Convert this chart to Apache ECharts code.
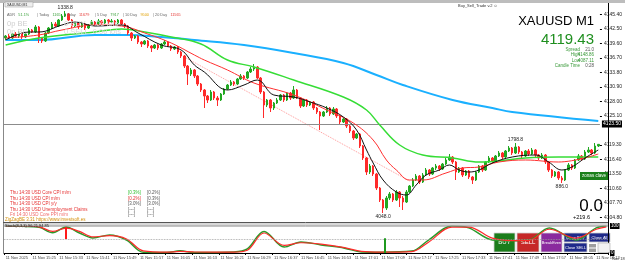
<!DOCTYPE html>
<html>
<head>
<meta charset="utf-8">
<title>XAUUSD M1</title>
<script src="https://cdn.jsdelivr.net/npm/echarts@6/dist/echarts.min.js"></script>
<style>
html,body{margin:0;padding:0;background:#fff;}
#chart{width:625px;height:266px;}
</style>
</head>
<body>
<div id="chart"></div>
<script>
// velas M1 XAUUSD: [open, close, low, high]
var candles = [
[4140.7,4141.1,4140.3,4141.3],[4141.1,4140.7,4140.5,4141.5],[4140.7,4141.5,4140.5,4141.7],[4141.5,4141.1,4140.9,4141.9],
[4141.1,4141.7,4140.7,4142.1],[4141.7,4140.9,4140.5,4141.9],[4140.9,4141.5,4140.7,4141.7],[4141.5,4142.3,4141.3,4142.7],
[4142.3,4141.9,4141.7,4142.5],[4141.9,4142.9,4141.7,4143.3],[4142.9,4140.7,4139.7,4143.1],[4140.7,4140.1,4139.7,4140.9],
[4140.1,4141.7,4139.9,4141.9],[4141.7,4142.7,4141.5,4142.9],[4142.7,4143.5,4142.5,4143.9],[4143.5,4143.1,4142.9,4143.9],
[4143.1,4144.3,4142.9,4144.5],[4144.3,4145.1,4144.1,4145.5],[4145.1,4145.5,4144.9,4146.1],[4145.5,4144.3,4144.1,4145.7],
[4144.3,4143.1,4142.7,4144.5],[4143.1,4143.7,4142.9,4143.9],[4143.7,4142.9,4142.5,4143.9],[4142.9,4143.5,4142.7,4143.7],
[4143.5,4142.7,4142.3,4143.7],[4142.7,4143.3,4142.5,4143.5],[4143.3,4143.9,4143.1,4144.3],[4143.9,4143.5,4143.1,4144.1],
[4143.5,4144.1,4143.3,4144.5],[4144.1,4143.7,4143.3,4144.3],[4143.7,4144.3,4143.5,4144.5],[4144.3,4143.9,4143.5,4144.5],
[4143.9,4144.1,4143.7,4144.5],[4144.1,4143.7,4143.3,4144.3],[4143.7,4144.3,4143.5,4144.5],[4144.3,4143.5,4143.3,4144.5],
[4143.5,4143.1,4142.7,4143.7],[4143.1,4141.7,4141.3,4143.3],[4141.7,4140.7,4140.1,4141.9],[4140.7,4141.1,4140.5,4141.3],
[4141.1,4139.9,4139.5,4141.3],[4139.9,4139.5,4138.9,4140.1],[4139.5,4140.1,4139.3,4140.3],[4140.1,4139.1,4138.7,4140.3],
[4139.1,4138.7,4137.9,4139.3],[4138.7,4139.3,4138.5,4139.5],[4139.3,4138.7,4138.3,4139.5],[4138.7,4139.5,4138.5,4139.7],
[4139.5,4139.9,4139.3,4140.3],[4139.9,4139.1,4138.9,4140.1],[4139.1,4138.5,4138.1,4139.3],[4138.5,4138.9,4138.3,4139.1],
[4138.9,4137.9,4137.5,4139.1],[4137.9,4137.1,4136.7,4138.1],[4137.1,4135.1,4134.7,4137.3],[4135.1,4133.5,4131.3,4135.3],
[4133.5,4134.3,4133.1,4134.7],[4134.3,4133.1,4132.7,4134.5],[4133.1,4131.5,4131.1,4133.3],[4131.5,4130.3,4129.9,4131.7],
[4130.3,4129.1,4126.7,4130.5],[4129.1,4128.3,4127.7,4129.3],[4128.3,4129.9,4128.1,4130.3],[4129.9,4128.7,4128.3,4130.1],
[4128.7,4128.3,4127.1,4129.1],[4128.3,4129.5,4128.1,4129.7],[4129.5,4130.5,4129.3,4130.7],[4130.5,4131.3,4130.3,4131.5],
[4131.3,4131.9,4131.1,4132.3],[4131.9,4131.5,4131.1,4132.1],[4131.5,4132.5,4131.3,4132.7],[4132.5,4133.1,4132.3,4133.5],
[4133.1,4132.7,4132.3,4133.3],[4132.7,4133.9,4132.5,4134.1],[4133.9,4134.5,4133.7,4134.9],[4134.5,4134.9,4134.1,4135.5],
[4134.9,4132.7,4132.5,4135.1],[4132.7,4129.9,4129.5,4132.9],[4129.9,4127.3,4124.7,4130.1],[4127.3,4128.3,4126.9,4128.5],
[4128.3,4126.7,4125.9,4128.5],[4126.7,4127.7,4126.3,4127.9],[4127.7,4128.3,4127.5,4128.7],[4128.3,4129.3,4128.1,4129.5],
[4129.3,4128.3,4127.9,4129.5],[4128.3,4129.7,4128.1,4129.9],[4129.7,4128.7,4128.3,4129.9],[4128.7,4130.3,4128.5,4131.1],
[4130.3,4128.7,4128.5,4130.5],[4128.7,4127.1,4126.7,4128.9],[4127.1,4128.3,4126.9,4128.5],[4128.3,4127.3,4126.9,4128.5],
[4127.3,4127.9,4127.1,4128.1],[4127.9,4126.7,4126.3,4128.1],[4126.7,4125.9,4125.5,4126.9],[4125.9,4125.1,4122.3,4126.1],
[4125.1,4125.9,4124.9,4126.1],[4125.9,4126.7,4125.7,4127.1],[4126.7,4125.5,4125.1,4126.9],[4125.5,4126.5,4125.3,4126.9],
[4126.5,4125.1,4124.7,4126.7],[4125.1,4123.9,4123.5,4125.3],[4123.9,4124.5,4123.7,4124.7],[4124.5,4123.1,4122.7,4124.7],
[4123.1,4122.1,4121.7,4123.3],[4122.1,4120.7,4120.3,4122.3],[4120.7,4121.5,4120.5,4121.7],[4121.5,4119.1,4118.7,4121.7],
[4119.1,4116.7,4116.3,4119.3],[4116.7,4113.9,4113.3,4116.9],[4113.9,4115.1,4113.5,4115.5],[4115.1,4113.5,4113.1,4115.3],
[4113.5,4110.7,4110.3,4113.7],[4110.7,4108.3,4107.9,4110.9],[4108.3,4106.7,4105.7,4108.5],[4106.7,4108.7,4106.3,4109.1],
[4108.7,4109.5,4108.3,4109.9],[4109.5,4108.3,4107.9,4109.7],[4108.3,4109.9,4108.1,4110.3],[4109.9,4108.7,4106.9,4110.1],
[4108.7,4107.9,4106.3,4109.1],[4107.9,4109.9,4107.7,4110.3],[4109.9,4111.1,4109.7,4111.3],[4111.1,4112.3,4110.9,4112.7],
[4112.3,4113.1,4112.1,4113.5],[4113.1,4111.9,4111.5,4113.3],[4111.9,4113.3,4111.7,4113.7],[4113.3,4114.3,4113.1,4114.7],
[4114.3,4113.5,4113.1,4114.5],[4113.5,4114.7,4113.3,4114.9],[4114.7,4115.1,4114.3,4115.5],[4115.1,4114.5,4114.1,4115.3],
[4114.5,4115.5,4114.3,4115.7],[4115.5,4116.3,4115.3,4116.7],[4116.3,4116.9,4116.1,4117.5],[4116.9,4115.9,4115.5,4117.1],
[4115.9,4113.9,4112.3,4116.1],[4113.9,4114.7,4113.7,4114.9],[4114.7,4113.3,4112.9,4114.9],[4113.3,4114.1,4113.1,4114.3],
[4114.1,4112.9,4112.5,4114.3],[4112.9,4112.3,4111.5,4113.1],[4112.3,4113.9,4112.1,4114.1],[4113.9,4115.1,4113.7,4115.3],
[4115.1,4114.3,4113.9,4115.3],[4114.3,4115.9,4114.1,4116.1],[4115.9,4116.7,4115.7,4117.1],[4116.7,4116.1,4115.7,4116.9],
[4116.1,4117.1,4115.9,4117.3],[4117.1,4117.7,4116.9,4118.1],[4117.7,4116.9,4116.5,4117.9],[4116.9,4118.1,4116.7,4118.3],
[4118.1,4118.7,4117.9,4119.1],[4118.7,4117.7,4117.3,4118.9],[4117.7,4118.9,4117.5,4119.7],[4118.9,4117.9,4117.5,4119.1],
[4117.9,4117.1,4116.7,4118.1],[4117.1,4118.1,4116.9,4118.3],[4118.1,4117.5,4117.1,4118.5],[4117.5,4118.3,4117.3,4118.7],
[4118.3,4117.3,4116.9,4118.5],[4117.3,4116.7,4116.3,4117.5],[4116.7,4117.3,4116.5,4117.7],[4117.3,4115.9,4115.5,4117.5],
[4115.9,4114.3,4113.9,4116.1],[4114.3,4113.1,4112.7,4114.5],[4113.1,4113.9,4112.9,4114.1],[4113.9,4112.7,4112.3,4114.1],
[4112.7,4112.3,4111.7,4113.1],[4112.3,4114.3,4112.1,4114.5],[4114.3,4115.3,4114.1,4115.7],[4115.3,4114.7,4114.3,4115.5],
[4114.7,4116.3,4114.5,4116.5],[4116.3,4117.1,4116.1,4117.5],[4117.1,4116.5,4116.1,4117.3],[4116.5,4117.9,4116.3,4118.3],
[4117.9,4118.3,4117.7,4118.9],[4118.3,4117.7,4117.3,4118.5],[4117.7,4119.1,4117.5,4119.7],[4119.1,4119.43,4118.9,4119.5]
];

// medias moviles: [indice vela, precio]
var maBlue = [[0,4140.3],[10,4140.3],[27,4141.3],[37,4141.3],[47,4140.9],[57,4140.3],[72,4139.3],[87,4137.7],
              [102,4135.7],[112,4133.3],[120,4131.3],[135,4128.3],[147,4126.7],[153,4125.9],[179,4124.1]];
var maGreen = [[0,4139.3],[10,4140.7],[27,4141.9],[35,4142.5],[42,4141.9],[50,4140.9],[59,4139.5],[67,4136.3],
               [75,4134.9],[87,4132.3],[102,4128.9],[109,4126.3],[113,4123.3],[119,4119.3],[126,4117.3],[135,4116.7],
               [143,4115.9],[149,4116.1],[157,4116.7],[167,4116.9],[179,4116.9]];
var maRed = [[0,4140.7],[10,4141.3],[17,4142.3],[27,4143.3],[35,4143.1],[42,4141.7],[50,4139.7],[57,4137.3],
             [60,4136.3],[67,4134.3],[75,4131.7],[87,4129.3],[97,4126.3],[105,4123.7],[111,4120.3],[115,4116.3],
             [118,4114.3],[122,4112.3],[126,4112.3],[133,4113.7],[138,4114.7],[143,4114.9],[149,4115.9],[157,4116.3],
             [167,4115.9],[179,4117.5]];
var maBlack = [[0,4140.3],[7,4141.9],[10,4141.9],[17,4143.3],[21,4143.9],[27,4143.1],[35,4143.3],[40,4141.7],
               [47,4139.3],[53,4138.3],[57,4135.3],[60,4133.9],[67,4130.3],[72,4131.3],[76,4132.3],[81,4129.3],
               [87,4128.9],[92,4127.9],[97,4126.7],[102,4124.9],[106,4122.3],[109,4118.3],[111,4115.7],[114,4112.3],
               [118,4109.9],[121,4109.3],[124,4111.3],[127,4113.3],[131,4114.3],[134,4115.3],[137,4114.3],[140,4113.9],
               [143,4114.3],[147,4115.7],[153,4116.9],[160,4117.3],[164,4115.9],[168,4114.3],[171,4114.9],[175,4116.7],
               [179,4118.3]];
var trendDots = [[54,4136.9],[122,4112.1]];
var keyLevel = 4123.5;

// etiquetas zigzag: [indice, precio, texto, posicion]
var zigzag = [[18,4146.1,'1338.8','top'],[154,4119.7,'1798.8','top'],[114,4105.7,'4048.0','bottom'],[168,4111.7,'886.0','bottom']];

var priceTicks = [4145.40,4142.50,4139.60,4136.70,4133.80,4130.90,4128.00,4125.10,4119.30,4116.40,4113.50,4110.60,4107.70,4104.80];

// estocastico
var stochMain = [[0,100],[5,99],[10,95],[14,75],[18,96],[22,74],[26,56],[31,67],[36,48],[41,3],[48,2],[52,8],[56,2],
                 [68,4],[72,15],[77,80],[83,22],[88,41],[94,30],[101,18],[106,4],[112,3],[121,7],[126,48],[133,100],
                 [138,93],[145,48],[151,45],[156,48],[162,93],[170,48],[176,93],[179,100]];
var stochSignal = [[0,100],[5,100],[10,97],[14,80],[18,92],[22,80],[26,60],[31,64],[36,52],[41,8],[48,3],[52,6],[56,4],
                   [68,3],[72,10],[77,74],[83,28],[88,38],[94,33],[101,20],[106,6],[112,3],[121,5],[126,40],[133,96],
                   [138,96],[145,55],[151,46],[156,47],[162,88],[170,55],[176,88],[179,97]];
var signalBars = [[18,52,96,'#ff1a1a'],[113,0,55,'#1f9a1f']];

// fila ADR: [x, etiqueta, valor, color valor]
var adrItems = [[7,'ADR','51.1%','#3aa03a'],[37,'| Today','1165','#3aa03a'],[65,'| Yday','11679','#e53935'],
                [95,'| 5 Day','7917','#3aa03a'],[123,'| 10 Day','9500','#e0a000'],[153,'| 20 Day','11565','#e53935']];

var newsRows = [
    ['Thu 14:30 USD Core CPI m/m', '[0.3%]', '[0.2%]', '#2bbf2b'],
    ['Thu 14:30 USD CPI m/m', '[0.2%]', '[0.3%]', '#e03030'],
    ['Thu 14:30 USD CPI y/y', '[3.0%]', '[3.0%]', '#555'],
    ['Thu 14:30 USD Unemployment Claims', '[---]', '[---]', '#555'],
    ['Fri 14:30 USD Core PPI m/m', '[---]', '[---]', '#555']
];

var cats = [];
for (var i = 0; i < candles.length; i++) {
    var m = 15 * 60 + 17 + i;
    var mm = m % 60;
    cats.push(i === 0 ? '11 Nov 2025' : '11 Nov ' + Math.floor(m / 60) + ':' + (mm < 10 ? '0' : '') + mm);
}

var FONT = 'Liberation Sans';
function txt(x, y, s, size, color, align, weight) {
    return { type: 'text', x: x, y: y, silent: true, z: 50,
        style: { text: s, fill: color || '#000', align: align || 'left', verticalAlign: 'middle',
                 font: (weight || 'normal') + ' ' + size + 'px "' + FONT + '"' } };
}
function btn(x, y, w, h, fill, label, size) {
    return { type: 'group', z: 60, children: [
        { type: 'rect', shape: { x: x, y: y, width: w, height: h },
          style: { fill: fill, stroke: '#d0d0d0', lineWidth: 0.8 } },
        { type: 'text', x: x + w / 2, y: y + h / 2,
          style: { text: label, fill: '#fff', align: 'center', verticalAlign: 'middle', font: size + 'px "' + FONT + '"' } }
    ]};
}
function mLine(x1, y1, x2, y2, color, w) {
    return { type: 'line', silent: true, z: 40, shape: { x1: x1, y1: y1, x2: x2, y2: y2 },
             style: { stroke: color, lineWidth: w || 1 } };
}

var graphics = [
    { type: 'rect', shape: { x: 0, y: 0, width: 625, height: 3 }, style: { fill: '#bdbdbd' }, z: 40 },
    { type: 'rect', shape: { x: 5, y: 2, width: 28, height: 5 }, style: { fill: '#eeeeee', stroke: '#999', lineWidth: 0.5 }, z: 41 },
    txt(7, 4.6, 'XAUUSD,M1', 3.5, '#333'),
    mLine(3.5, 3, 3.5, 253, '#888'),
    mLine(3, 222.5, 608, 222.5, '#555'),
    { type: 'rect', shape: { x: 3, y: 223, width: 605, height: 2.5 }, style: { fill: '#d8d8d8' }, z: 39 },
    mLine(3, 226, 608, 226, '#888'),
    mLine(608.5, 3, 608.5, 253, '#000'),
    txt(7, 23.5, '0p BE', 7.5, '#cfcfcf'),
    txt(7, 31.5, '0p BE', 7.5, '#cfcfcf'),
    txt(64, 23.5, '0 BUY  0.00 lots', 7.5, '#d8d8d8'),
    txt(64, 31.5, '0 SELL  0.00 lots', 7.5, '#d8d8d8'),
    // panel derecho
    txt(458, 5.5, 'Buy_Sell_Trade v.2 \u263A', 4, '#333'),
    txt(594, 21, 'XAUUSD M1', 13, '#000', 'right'),
    txt(594, 39.5, '4119.43', 15, '#1f8f1f', 'right'),
    txt(580, 49.5, 'Spread', 4.5, '#3a9a3a', 'right'), txt(594, 49.5, '21.0', 4.5, '#555', 'right'),
    txt(580, 55, 'High', 4.5, '#3a9a3a', 'right'), txt(594, 55, '4148.86', 4.5, '#3a9a3a', 'right'),
    txt(580, 60.5, 'Low', 4.5, '#3a9a3a', 'right'), txt(594, 60.5, '4087.11', 4.5, '#3a9a3a', 'right'),
    txt(580, 66, 'Candle Time', 4.5, '#3a9a3a', 'right'), txt(594, 66, '0:28', 4.5, '#555', 'right'),
    { type: 'rect', shape: { x: 580, y: 172, width: 28, height: 8 }, style: { fill: '#1b801b' }, z: 45 },
    txt(594, 176, 'zonas clave', 4.5, '#fff', 'center'),
    txt(603, 206, '0.0', 17, '#000', 'right'),
    txt(590, 217, '+219.6', 5.5, '#000', 'right'),
    txt(612, 259, 'Nov 18', 4, '#333'),
    // pie
    txt(5, 219.5, 'ZigZagBE 3.31 https://www.investsoft.es', 4.5, '#d4900a'),
    txt(5, 225.5, 'Stoch(8,3,3) 96.21 94.85', 4, '#222'),
    // botones
    btn(494, 233, 21, 19, '#1b7d1b', 'BUY', 6),
    btn(517, 233, 22, 19, '#c62828', 'SELL', 6),
    btn(541, 233, 21, 19, '#8a2a9e', 'BreakEven', 4),
    btn(564, 233, 23, 9, '#1f2a8a', 'Close BUY', 4),
    btn(564, 243, 23, 9, '#1f2a8a', 'Close SELL', 4),
    btn(589, 233, 21, 9, '#1f2a8a', 'Close All', 4),
    { type: 'rect', shape: { x: 589, y: 244, width: 7, height: 3.5 }, style: { fill: '#9e9e9e' }, z: 60 },
    { type: 'rect', shape: { x: 589, y: 248.5, width: 7, height: 3.5 }, style: { fill: '#9e9e9e' }, z: 60 },
    { type: 'rect', shape: { x: 598, y: 243, width: 12, height: 9.5 }, style: { fill: '#f2f2f2', stroke: '#aaa', lineWidth: 0.6 }, z: 60 },
    txt(604, 248, '0.01', 4.5, '#999', 'center')
];
adrItems.forEach(function (a) {
    graphics.push({ type: 'text', x: a[0], y: 15, silent: true, z: 50,
        style: { verticalAlign: 'middle', text: '{g|' + a[1] + '} {v|' + a[2] + '}',
                 rich: { g: { fill: '#666', fontSize: 3.8, fontFamily: FONT },
                         v: { fill: a[3], fontSize: 3.8, fontFamily: FONT } } } });
});
newsRows.forEach(function (r, k) {
    var y = 193 + k * 5.5;
    graphics.push(txt(10, y, r[0], 4.5, k === 4 ? '#f06a6a' : '#e53030'));
    graphics.push(txt(128, y, r[1], 4.5, r[3]));
    graphics.push(txt(147, y, r[2], 4.5, '#555'));
});

var option = {
    animation: false,
    backgroundColor: '#fff',
    textStyle: { fontFamily: FONT },
    grid: [
        { left: 4, right: 17, top: 4, height: 218 },
        { left: 4, right: 17, top: 226, height: 27 }
    ],
    xAxis: [
        { type: 'category', gridIndex: 0, data: cats, boundaryGap: true,
          axisLine: { show: false }, axisTick: { show: false }, axisLabel: { show: false }, splitLine: { show: false } },
        { type: 'category', gridIndex: 1, data: cats, boundaryGap: true,
          axisLine: { show: true, lineStyle: { color: '#000', width: 1 } },
          axisTick: { show: true, interval: 7, length: 2, lineStyle: { color: '#000' } },
          axisLabel: { show: true, interval: 7, fontSize: 4, color: '#444', align: 'left', margin: 3 },
          splitLine: { show: false } }
    ],
    yAxis: [
        { type: 'value', gridIndex: 0, position: 'right', min: 4103.9, max: 4147.5, scale: true,
          axisLine: { show: false },
          axisTick: { show: true, length: 2, customValues: priceTicks, lineStyle: { color: '#000' } },
          axisLabel: { show: true, customValues: priceTicks, fontSize: 5, color: '#222', margin: 4,
                       formatter: function (v) { return v.toFixed(2); } },
          splitLine: { show: false } },
        { type: 'value', gridIndex: 1, position: 'right', min: 0, max: 100,
          axisLine: { show: false }, axisTick: { show: false },
          axisLabel: { show: true, customValues: [0, 100], fontSize: 4.5, color: '#fff', backgroundColor: '#000',
                       padding: [0.5, 1], margin: 2 },
          splitLine: { show: false } }
    ],
    series: [
        { type: 'candlestick', name: 'XAUUSD', xAxisIndex: 0, yAxisIndex: 0, data: candles, barWidth: 2,
          itemStyle: { color: '#22a822', color0: '#ff2a2a', borderColor: '#22a822', borderColor0: '#ff2a2a', borderWidth: 1 },
          markLine: { silent: true, symbol: 'none', z: 3,
              lineStyle: { color: '#8c8c8c', width: 1, type: 'solid' },
              label: { show: true, position: 'end', distance: 2, formatter: keyLevel.toFixed(2), fontSize: 5,
                       color: '#fff', backgroundColor: '#000', padding: [1, 1] },
              data: [{ yAxis: keyLevel }] },
          markPoint: { silent: true, symbol: 'circle', symbolSize: 0.1,
              data: zigzag.map(function (z) {
                  return { coord: [z[0], z[1]], value: z[2],
                           label: { show: true, position: z[3], distance: 1, formatter: z[2], fontSize: 5, color: '#222' } };
              }) } },
        { type: 'line', name: 'MA lenta', data: maBlue, smooth: 0.4, symbol: 'none', z: 2,
          lineStyle: { color: '#1ab0ff', width: 2 } },
        { type: 'line', name: 'MA media', data: maGreen, smooth: 0.4, symbol: 'none', z: 3,
          lineStyle: { color: '#36dd36', width: 1.5 } },
        { type: 'line', name: 'MA roja', data: maRed, smooth: 0.4, symbol: 'none', z: 4,
          lineStyle: { color: '#ff3030', width: 1 } },
        { type: 'line', name: 'MA rapida', data: maBlack, smooth: 0.4, symbol: 'none', z: 5,
          lineStyle: { color: '#111', width: 1 } },
        { type: 'line', name: 'canal', data: trendDots, symbol: 'none', z: 2,
          lineStyle: { color: '#ff9a9a', width: 1, type: 'dotted' } },
        { type: 'line', name: 'Stoch main', xAxisIndex: 1, yAxisIndex: 1, data: stochMain, smooth: 0.35,
          symbol: 'none', lineStyle: { color: '#2a9a2a', width: 1.5 },
          markLine: { silent: true, symbol: 'none', label: { show: false },
              data: [{ yAxis: 50, lineStyle: { color: '#999', width: 0.8, type: 'dotted' } }].concat(
                  signalBars.map(function (b) {
                      return [{ coord: [b[0], b[1]], lineStyle: { color: b[3], width: 2, type: 'solid' } },
                              { coord: [b[0], b[2]] }];
                  })) } },
        { type: 'line', name: 'Stoch signal', xAxisIndex: 1, yAxisIndex: 1, data: stochSignal, smooth: 0.35,
          symbol: 'none', lineStyle: { color: '#ff2a2a', width: 1.2 } }
    ],
    graphic: graphics
};

var chart = echarts.init(document.getElementById('chart'), null, { renderer: 'canvas' });
chart.setOption(option);
</script>
</body>
</html>
